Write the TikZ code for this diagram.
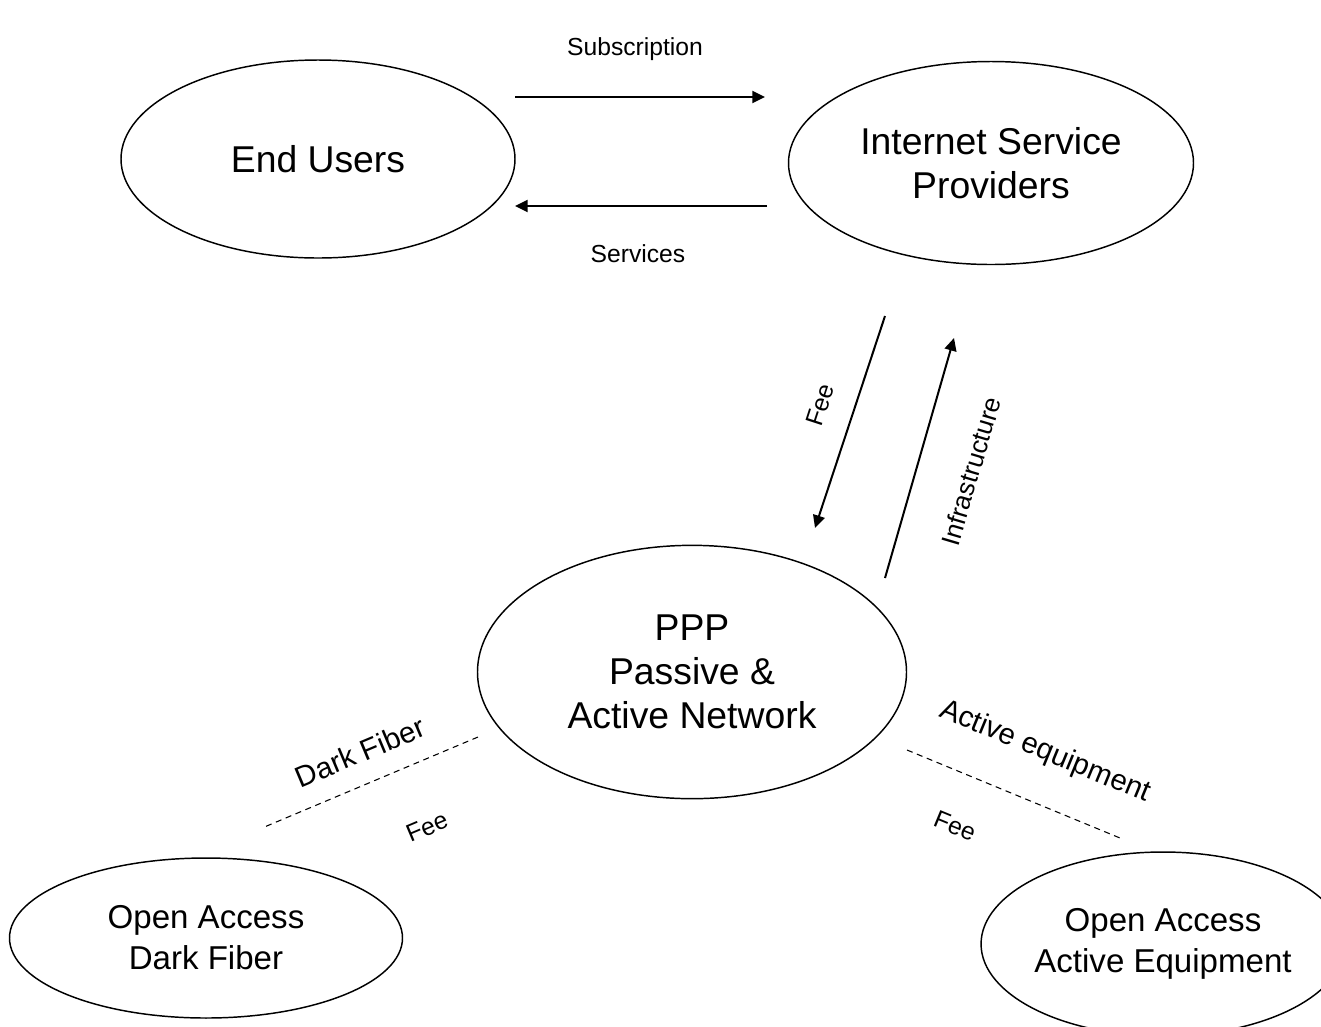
\documentclass[tikz,border=0pt]{standalone}
\usepackage{fontspec}
\setmainfont{Liberation Sans}
\usetikzlibrary{shapes.geometric,arrows.meta}
\begin{document}
\begin{tikzpicture}[x=0.75pt,y=-0.75pt,
  party/.style={draw,ellipse,line width=1.1pt,inner sep=0pt,align=center},
  bigtxt/.style={font=\fontsize{28}{33}\selectfont},
  midtxt/.style={font=\fontsize{24.8}{30.8}\selectfont},
  flow/.style={line width=1.5pt,-{Triangle[length=9.5pt,width=9pt]}},
  link/.style={line width=0.8pt,dash pattern=on 4.5pt off 3.5pt},
  smalllbl/.style={font=\fontsize{18.5}{22}\selectfont,inner sep=0pt},
  lbl/.style={font=\fontsize{22}{26}\selectfont,inner sep=0pt}]
\useasboundingbox (0,0) rectangle (1321,1026);

% parties
\node[party,bigtxt,minimum width=295.5pt,minimum height=148.5pt] (users) at (318,159) {End Users};
\node[party,bigtxt,minimum width=303.75pt,minimum height=152.25pt] (isp) at (991,163) {Internet Service\\Providers};
\node[party,bigtxt,minimum width=321.75pt,minimum height=190pt] (ppp) at (692,672) {PPP\\Passive \&\\Active Network};
\node[party,midtxt,minimum width=294.75pt,minimum height=120pt] (oadf) at (206,938) {Open Access\\Dark Fiber};
\node[party,midtxt,minimum width=271.5pt,minimum height=138pt] (oaae) at (1163,944) {Open Access\\Active Equipment};

% flow end points
\coordinate (subA) at (515,97);
\coordinate (subB) at (765,97);
\coordinate (svcA) at (767,206);
\coordinate (svcB) at (515,206);
\coordinate (feeA) at (885,316);
\coordinate (feeB) at (815,528);
\coordinate (infA) at (885,578);
\coordinate (infB) at (954,338);
\coordinate (dfA) at (478,737);
\coordinate (dfB) at (262,828);
\coordinate (aeA) at (907,750);
\coordinate (aeB) at (1120,838);

% flows between end users and providers
\draw[flow] (subA) -- (subB);
\draw[flow] (svcA) -- (svcB);
\node[smalllbl] (lsub) at (635,49) {Subscription};
\node[smalllbl] (lsvc) at (638,254) {Services};

% flows between providers and the network
\draw[flow] (feeA) -- (feeB);
\draw[flow] (infA) -- (infB);
\node[smalllbl,rotate=72] (lfee) at (820,405) {Fee};
\node[smalllbl,rotate=73.5,font=\fontsize{19.5}{22}\selectfont] (linf) at (971,471) {Infrastructure};

% open access links
\draw[link] (dfA) -- (dfB);
\draw[link] (aeA) -- (aeB);
\node[lbl,rotate=22.8] (ldf) at (360,752) {Dark Fiber};
\node[smalllbl,rotate=22.8] (ldffee) at (427,827) {Fee};
\node[lbl,rotate=-22.4] (lae) at (1045,752) {Active equipment};
\node[smalllbl,rotate=-22.4] (laefee) at (955,826) {Fee};
\end{tikzpicture}
\end{document}
